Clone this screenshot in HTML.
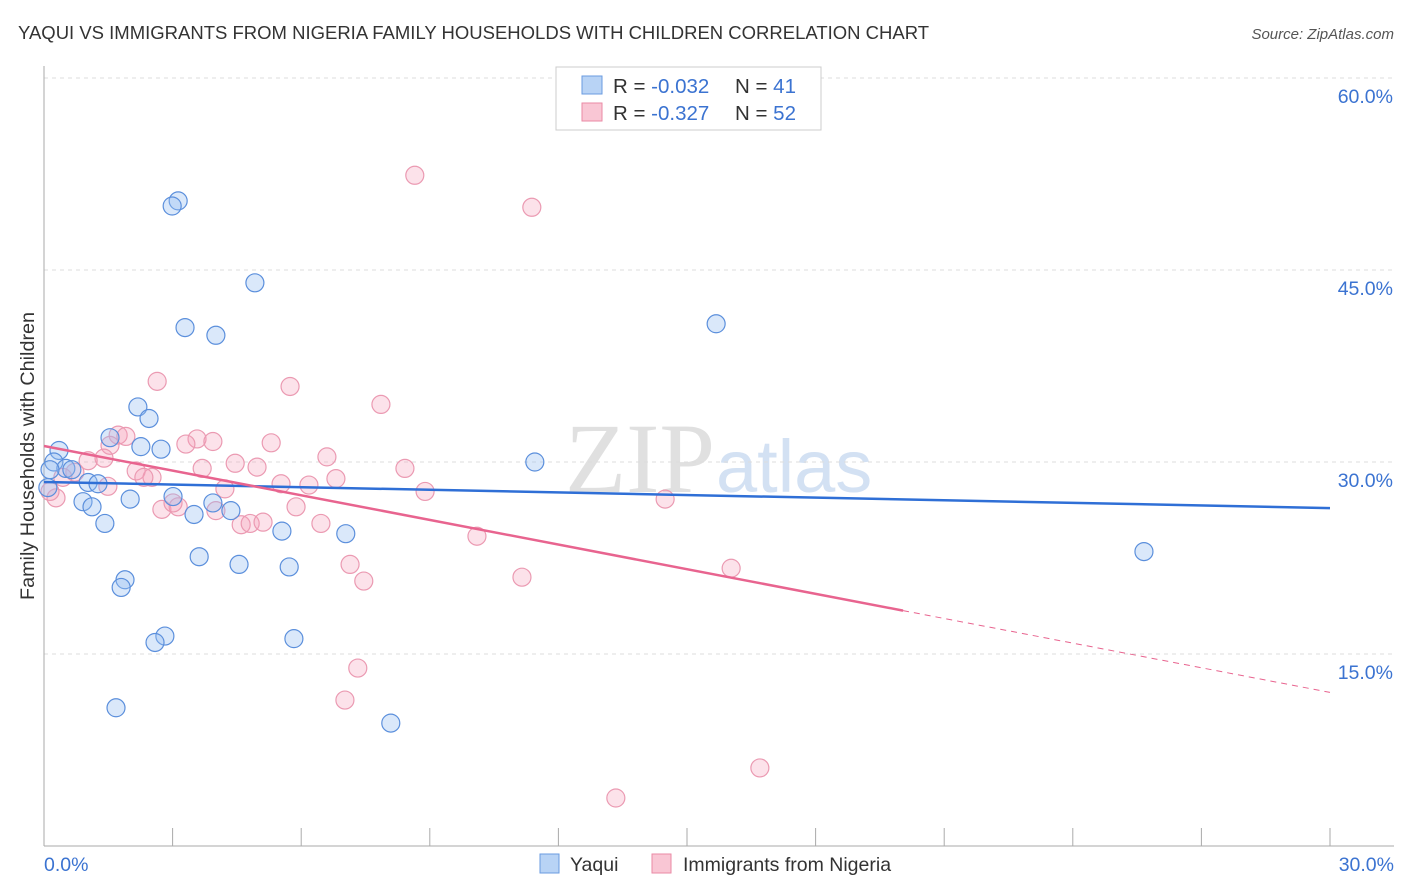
<!DOCTYPE html>
<html><head><meta charset="utf-8"><style>
body{margin:0;background:#fff;font-family:"Liberation Sans",sans-serif}
svg{display:block}
</style></head><body>
<svg width="1406" height="892" id="c">
<text x="18" y="39" font-size="18.5" fill="#333">YAQUI VS IMMIGRANTS FROM NIGERIA FAMILY HOUSEHOLDS WITH CHILDREN CORRELATION CHART</text>
<text x="1394" y="39" font-size="15" fill="#555" font-style="italic" text-anchor="end">Source: ZipAtlas.com</text>
<text x="715" y="492" font-size="100" fill="#e0e0e0" text-anchor="end" font-family="Liberation Serif,serif">ZIP</text>
<text x="716" y="492" font-size="74" fill="#d3e1f3">atlas</text>
<g id="grid"></g><g id="marks"></g>
<text transform="translate(34,456) rotate(-90)" font-size="19.8" fill="#333" text-anchor="middle">Family Households with Children</text>
<g>
<rect x="556" y="67" width="265" height="63" fill="#fff" stroke="#ccc"/>
<rect x="582" y="76" width="20" height="18" fill="#b8d3f5" stroke="#6a9be0"/>
<rect x="582" y="103" width="20" height="18" fill="#f9c6d4" stroke="#ea8aa5"/>
<text x="613" y="93" font-size="20.5" fill="#333">R = <tspan fill="#3b73d1">-0.032</tspan><tspan x="735">N = </tspan><tspan fill="#3b73d1">41</tspan></text>
<text x="613" y="120" font-size="20.5" fill="#333">R = <tspan fill="#3b73d1"> -0.327</tspan><tspan x="735">N = </tspan><tspan fill="#3b73d1">52</tspan></text>
</g>
<g>
<rect x="540" y="854" width="19" height="19" fill="#b8d3f5" stroke="#6a9be0"/>
<text x="570" y="871" font-size="19.5" fill="#333">Yaqui</text>
<rect x="652" y="854" width="19" height="19" fill="#f9c6d4" stroke="#ea8aa5"/>
<text x="683" y="871" font-size="19.5" fill="#333">Immigrants from Nigeria</text>
</g>
</svg>
<script>
const yTicks=[15,30,45,60];
const yTickLabels=["15.0%","30.0%","45.0%","60.0%"];
const xTickLabels=["0.0%","30.0%"];
const blueX=[3.13,2.99,4.92,3.29,4.01,15.68,2.19,2.45,1.54,2.26,2.73,0.35,0.23,11.45,0.51,0.65,1.03,1.26,2.01,3.01,0.91,1.12,3.94,4.36,3.50,1.42,5.55,7.04,3.62,4.55,5.72,1.89,1.80,2.82,2.59,5.83,1.68,8.09,25.66,0.09,0.14];
const blueY=[50.4,50.0,44.0,40.5,39.9,40.8,34.3,33.4,31.9,31.2,31.0,30.9,30.0,30.0,29.5,29.4,28.4,28.3,27.1,27.3,26.9,26.5,26.8,26.2,25.9,25.2,24.6,24.4,22.6,22.0,21.8,20.8,20.2,16.4,15.9,16.2,10.8,9.6,23.0,28.0,29.4];
const pinkX=[8.65,11.38,2.64,5.74,7.86,1.73,1.91,3.57,3.94,1.54,3.31,5.30,1.40,6.60,4.46,1.03,4.97,8.42,2.15,2.52,2.33,3.69,0.72,5.53,6.18,6.81,4.22,8.89,14.49,0.28,0.14,2.75,3.13,4.01,4.60,4.81,5.11,6.46,5.88,10.10,7.14,7.46,11.15,16.03,7.32,7.02,16.70,13.34,3.01,0.44,1.49];
const pinkY=[52.4,49.9,36.3,35.9,34.5,32.1,32.0,31.8,31.6,31.3,31.4,31.5,30.3,30.4,29.9,30.1,29.6,29.5,29.3,28.8,28.8,29.5,29.2,28.3,28.2,28.7,27.9,27.7,27.1,27.2,27.7,26.3,26.5,26.2,25.1,25.2,25.3,25.2,26.5,24.2,22.0,20.7,21.0,21.7,13.9,11.4,6.1,3.75,26.8,28.8,28.1];
const blueTrend=[28.44,26.4];
const pinkTrend=[31.25,12.0];
const pinkSolidEnd=20.04;
const NS="http://www.w3.org/2000/svg";
const X=v=>44+v*1286/30, Y=v=>846-v*12.8;
function mk(t,a,p){const e=document.createElementNS(NS,t);for(const k in a)e.setAttribute(k,a[k]);p.appendChild(e);return e;}
const g=document.getElementById('grid'),m=document.getElementById('marks');
yTicks.forEach((t,i)=>{
 const l=mk('line',{x1:44,x2:1394,y1:Y(t),y2:Y(t),stroke:'#ddd','stroke-dasharray':'4,4'},g);
 
 
 const tx=mk('text',{x:1393,y:Y(t)+25,'font-size':19.5,fill:'#3b73d1','text-anchor':'end'},g);tx.textContent=yTickLabels[i];
 
 
});
mk('line',{x1:44,x2:44,y1:66,y2:846,stroke:'#aaa'},g);
mk('line',{x1:44,x2:1394,y1:846,y2:846,stroke:'#aaa'},g);
for(let i=0;i<=10;i++){mk('line',{x1:X(i*3),x2:X(i*3),y1:828,y2:846,stroke:'#aaa'},g);}
xTickLabels.forEach((s,i)=>{const tx=mk('text',{x:i?1394:44,y:871,'font-size':19.5,fill:'#3b73d1','text-anchor':i?'end':'start'},g);tx.textContent=s;
 
 });
pinkX.forEach((x,i)=>{const c=mk('circle',{cx:X(x),cy:Y(pinkY[i]),r:9,fill:'rgba(244,160,185,0.3)',stroke:'#eb9ab2','stroke-width':1.2},m);
 
 });
blueX.forEach((x,i)=>{const c=mk('circle',{cx:X(x),cy:Y(blueY[i]),r:9,fill:'rgba(150,190,240,0.35)',stroke:'#5b8fdc','stroke-width':1.2},m);
 
 });
const pAt=x=>pinkTrend[0]+(pinkTrend[1]-pinkTrend[0])*x/30;
let l=mk('line',{x1:X(0),y1:Y(blueTrend[0]),x2:X(30),y2:Y(blueTrend[1]),stroke:'#2f6fd6','stroke-width':2.5},m);


l=mk('line',{x1:X(0),y1:Y(pAt(0)),x2:X(pinkSolidEnd),y2:Y(pAt(pinkSolidEnd)),stroke:'#e8648f','stroke-width':2.5},m);


l=mk('line',{x1:X(pinkSolidEnd),y1:Y(pAt(pinkSolidEnd)),x2:X(30),y2:Y(pAt(30)),stroke:'#e8648f','stroke-width':1,'stroke-dasharray':'6,5'},m);


</script>
</body></html>
